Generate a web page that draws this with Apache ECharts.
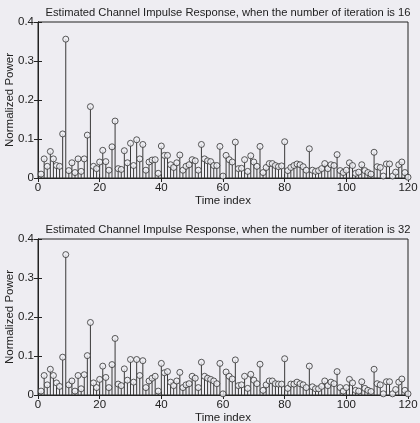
<!DOCTYPE html>
<html>
<head>
<meta charset="utf-8">
<script src="https://cdn.jsdelivr.net/npm/echarts@6/dist/echarts.min.js"></script>
<style>
html,body{margin:0;padding:0;background:#eeedf2;}
#c{width:420px;height:423px;}
</style>
</head>
<body>
<div id="c"></div>
<script>
// ---- data ----
const titles = [
  'Estimated Channel Impulse Response, when the number of iteration is 16',
  'Estimated Channel Impulse Response, when the number of iteration is 32'
];
const xTicks = [0, 20, 40, 60, 80, 100, 120];
const yTicks = [0, 0.1, 0.2, 0.3, 0.4];
const xLabel = 'Time index';
const yLabel = 'Normalized Power';

// Normalized power at time index 1..120, iteration 16
const power16 = [
  0.010,0.049,0.030,0.068,0.049,0.032,0.030,0.113,0.356,0.019,
  0.039,0.014,0.049,0.017,0.049,0.110,0.183,0.030,0.024,0.041,
  0.071,0.042,0.020,0.080,0.146,0.024,0.022,0.070,0.039,0.089,
  0.032,0.098,0.049,0.086,0.020,0.041,0.046,0.047,0.012,0.082,
  0.058,0.058,0.034,0.027,0.039,0.059,0.020,0.030,0.034,0.047,
  0.044,0.020,0.086,0.049,0.044,0.042,0.032,0.032,0.081,0.005,
  0.058,0.047,0.041,0.092,0.024,0.025,0.047,0.017,0.057,0.041,
  0.030,0.081,0.014,0.027,0.037,0.037,0.032,0.029,0.031,0.093,
  0.019,0.027,0.032,0.036,0.034,0.029,0.020,0.075,0.020,0.017,
  0.019,0.024,0.037,0.024,0.034,0.032,0.060,0.019,0.014,0.020,
  0.039,0.032,0.012,0.015,0.034,0.019,0.014,0.010,0.066,0.029,
  0.027,0.005,0.036,0.036,0.005,0.015,0.034,0.041,0.014,0.002
];
// Normalized power at time index 1..120, iteration 32
const power32 = [
  0.010,0.050,0.026,0.066,0.050,0.031,0.022,0.097,0.360,0.026,
  0.036,0.010,0.050,0.016,0.052,0.101,0.186,0.031,0.019,0.040,
  0.074,0.045,0.019,0.078,0.145,0.028,0.024,0.067,0.038,0.091,
  0.033,0.091,0.050,0.088,0.019,0.036,0.043,0.048,0.010,0.081,
  0.057,0.060,0.033,0.024,0.036,0.058,0.019,0.026,0.029,0.048,
  0.043,0.019,0.084,0.048,0.043,0.040,0.036,0.029,0.081,0.003,
  0.059,0.048,0.041,0.090,0.024,0.026,0.048,0.017,0.053,0.038,
  0.029,0.079,0.012,0.026,0.036,0.036,0.029,0.028,0.028,0.093,
  0.017,0.028,0.028,0.033,0.029,0.026,0.019,0.074,0.021,0.016,
  0.016,0.022,0.036,0.024,0.033,0.029,0.060,0.019,0.010,0.019,
  0.040,0.031,0.012,0.010,0.034,0.017,0.012,0.009,0.066,0.029,
  0.026,0.003,0.034,0.034,0.003,0.014,0.033,0.041,0.012,0.003
];
const panels = [power16, power32];

// ---- chart ----
const BG = '#eeedf2';
const INK = '#222222';
const FONT = 'Liberation Sans, Arial, sans-serif';
const chart = echarts.init(document.getElementById('c'), null, {renderer: 'canvas'});

const gridTops = [22, 239];
const gridH = 156;
const grids = [], xAxes = [], yAxes = [], series = [], titleArr = [], graphics = [];

panels.forEach((vals, g) => {
  grids.push({left: 38, right: 12, top: gridTops[g], height: gridH,
    outerBoundsMode: 'none', containLabel: false,
    show: true, borderColor: INK, borderWidth: 1, backgroundColor: 'transparent'});
  titleArr.push({text: titles[g], left: 223, textAlign: 'center', top: gridTops[g] - 20,
    textStyle: {fontFamily: FONT, fontSize: 11.2, fontWeight: 'normal', color: INK}});
  graphics.push({type: 'text', x: 10, y: gridTops[g] + gridH / 2, rotation: Math.PI / 2,
    silent: true,
    style: {text: yLabel, align: 'center', verticalAlign: 'middle',
      font: '11.5px ' + FONT, fill: INK}});
  const xBase = {type: 'value', gridIndex: g, min: xTicks[0], max: xTicks[xTicks.length - 1],
    interval: xTicks[1] - xTicks[0], splitLine: {show: false},
    axisLine: {show: true, lineStyle: {color: INK, width: 1}},
    axisTick: {show: true, inside: true, length: 4, lineStyle: {color: INK}}};
  xAxes.push(Object.assign({}, xBase, {position: 'bottom',
    name: xLabel, nameLocation: 'middle', nameGap: 16,
    nameTextStyle: {fontFamily: FONT, fontSize: 11.5, color: INK},
    axisLabel: {fontFamily: FONT, fontSize: 11.5, color: INK, margin: 4}}));
  xAxes.push(Object.assign({}, xBase, {position: 'top', axisLabel: {show: false}}));
  const yBase = {type: 'value', gridIndex: g, min: yTicks[0], max: yTicks[yTicks.length - 1],
    interval: 0.1, splitLine: {show: false},
    axisLine: {show: true, lineStyle: {color: INK, width: 1}},
    axisTick: {show: true, inside: true, length: 4, lineStyle: {color: INK}}};
  yAxes.push(Object.assign({}, yBase, {position: 'left',
    axisLabel: {fontFamily: FONT, fontSize: 11.5, color: INK, margin: 4,
      formatter: v => (v === 0 ? '0' : v.toFixed(1))}}));
  yAxes.push(Object.assign({}, yBase, {position: 'right', axisLabel: {show: false}}));

  const data = vals.map((v, i) => [i + 1, v]);
  series.push({type: 'custom', xAxisIndex: 2 * g, yAxisIndex: 2 * g, data: data,
    encode: {x: 0, y: 1}, silent: true, z: 2,
    renderItem: (params, api) => {
      const x = api.value(0), y = api.value(1);
      const p0 = api.coord([x, 0]), p1 = api.coord([x, y]);
      return {type: 'line', shape: {x1: p0[0], y1: p0[1], x2: p1[0], y2: p1[1]},
        style: {stroke: '#3a3a3a', lineWidth: 1}};
    }});
  series.push({type: 'scatter', xAxisIndex: 2 * g, yAxisIndex: 2 * g, data: data,
    symbol: 'circle', symbolSize: 6, silent: true, z: 3,
    itemStyle: {color: BG, borderColor: '#333', borderWidth: 1}});
});

chart.setOption({
  backgroundColor: BG,
  animation: false,
  title: titleArr,
  grid: grids,
  xAxis: xAxes,
  yAxis: yAxes,
  graphic: graphics,
  series: series
});
</script>
</body>
</html>
